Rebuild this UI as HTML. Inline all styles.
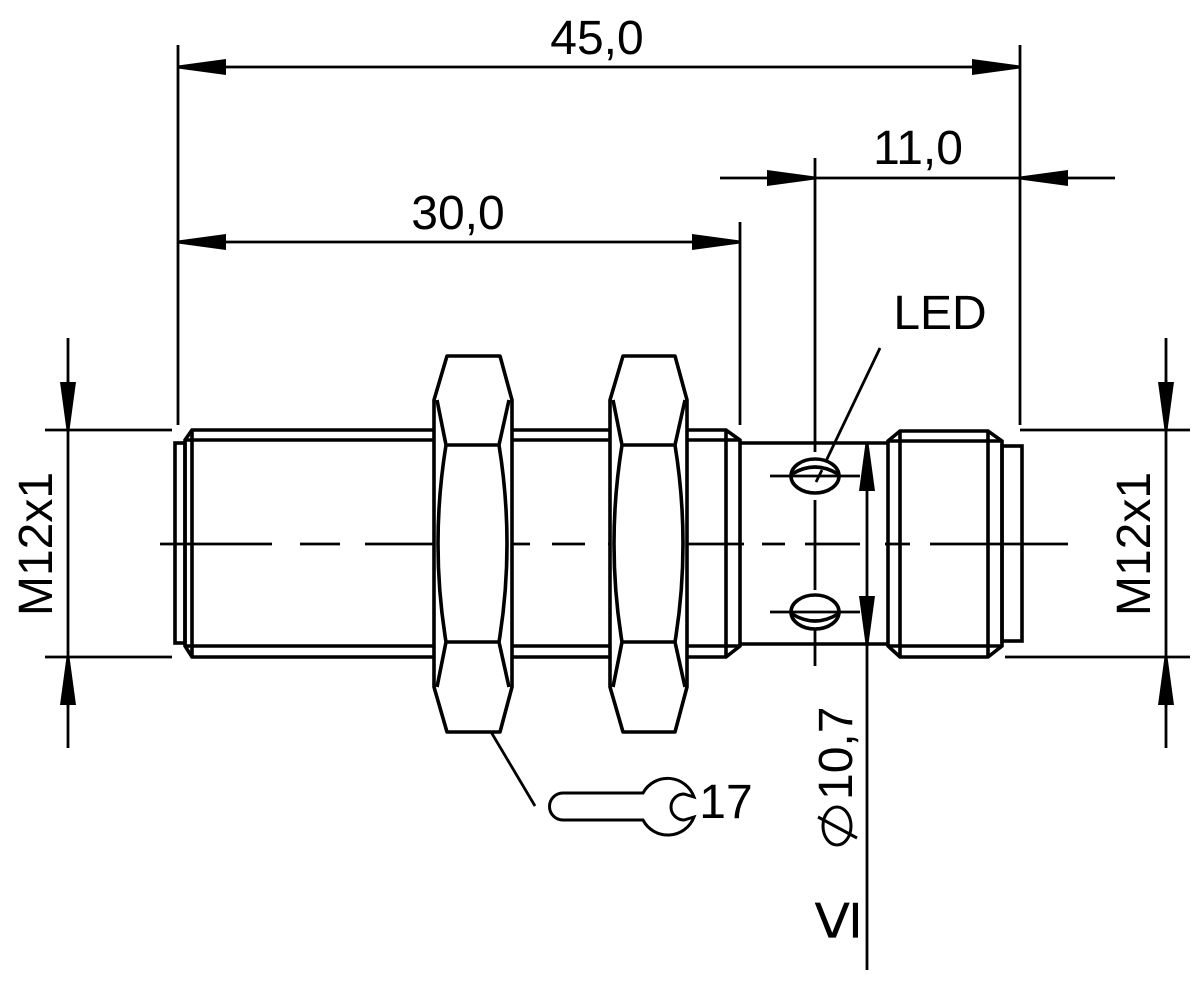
<!DOCTYPE html>
<html><head><style>html,body{margin:0;padding:0;background:#fff}svg{display:block}</style></head>
<body>
<svg width="1200" height="990" viewBox="0 0 1200 990" xmlns="http://www.w3.org/2000/svg" font-family="Liberation Sans, Arial, sans-serif">
<defs>
<marker id="a" viewBox="0 0 48 18" refX="48" refY="9" markerWidth="48" markerHeight="18" markerUnits="userSpaceOnUse" orient="auto"><path d="M0,1 L48,7.5 L48,10.5 L0,17 Z" fill="#000"/></marker>
</defs>
<g stroke="#000" fill="none" stroke-width="2.8">
<line x1="178" y1="45" x2="178" y2="425"/>
<line x1="1020" y1="45" x2="1020" y2="425"/>
<line x1="226" y1="67" x2="972" y2="67"/>
<line x1="226" y1="67" x2="178" y2="67" marker-end="url(#a)"/>
<line x1="972" y1="67" x2="1020" y2="67" marker-end="url(#a)"/>
<line x1="740" y1="222" x2="740" y2="425"/>
<line x1="226" y1="242" x2="692" y2="242"/>
<line x1="226" y1="242" x2="178" y2="242" marker-end="url(#a)"/>
<line x1="692" y1="242" x2="740" y2="242" marker-end="url(#a)"/>
<line x1="815" y1="158" x2="815" y2="452"/>
<line x1="720" y1="178" x2="815" y2="178" marker-end="url(#a)"/>
<line x1="815" y1="178" x2="1020" y2="178"/>
<line x1="1115" y1="178" x2="1020" y2="178" marker-end="url(#a)"/>
<line x1="45" y1="430" x2="172" y2="430"/>
<line x1="45" y1="657" x2="172" y2="657"/>
<line x1="68" y1="338" x2="68" y2="748"/>
<line x1="68" y1="380" x2="68" y2="430" marker-end="url(#a)"/>
<line x1="68" y1="707" x2="68" y2="657" marker-end="url(#a)"/>
<line x1="1020" y1="430" x2="1190" y2="430"/>
<line x1="1005" y1="657" x2="1190" y2="657"/>
<line x1="1166" y1="338" x2="1166" y2="748"/>
<line x1="1166" y1="380" x2="1166" y2="430" marker-end="url(#a)"/>
<line x1="1166" y1="707" x2="1166" y2="657" marker-end="url(#a)"/>
<line x1="867" y1="443" x2="867" y2="970"/>
<line x1="867" y1="490" x2="867" y2="443" marker-end="url(#a)"/>
<line x1="867" y1="597" x2="867" y2="644" marker-end="url(#a)"/>
<path d="M160,544 H272 M300,544 H340 M365,544 H530 M552,544 H585 M608,544 H744 M762,544 H785 M805,544 H860 M885,544 H910 M930,544 H1068"/>
<path d="M815,500 V590 M815,625 V666"/>
<line x1="880" y1="348" x2="816" y2="482"/>
<line x1="478" y1="710" x2="535" y2="806"/>
</g>
<g stroke="#000" fill="none" stroke-width="3.6">
<rect x="175" y="443" width="10" height="200"/>
<path d="M185,440 L192,430 H726 L740,440 V646 L726,657 H192 L185,646 Z"/>
<path d="M192,430 V657 M185,440 H740 M185,646 H740 M726,430 V657"/>
<path d="M740,443 H888 M740,644 H888"/>
<path d="M888,441 L900,431 H988 L1002,441 V646 L988,657 H900 L888,646 Z"/>
<path d="M900,431 V657 M988,431 V657 M888,441 H1002 M888,646 H1002"/>
<rect x="1002" y="446" width="20" height="195"/>
<ellipse cx="815" cy="476" rx="24" ry="17" fill="#fff"/>
<path d="M792,474 Q815,460 838,474"/>
<ellipse cx="815" cy="612" rx="24" ry="17" fill="#fff"/>
<path d="M792,614 Q815,628 838,614"/>
</g>
<g stroke="#000" stroke-width="2.8"><line x1="770" y1="476" x2="860" y2="476"/><line x1="770" y1="612" x2="860" y2="612"/><line x1="822" y1="470" x2="816" y2="482"/></g>
<g stroke="#000" fill="#fff" stroke-width="3.6" stroke-linejoin="round">
<path d="M447,356 H500 L512,400 V687 L500,732 H447 L434,687 V400 Z"/>
<path fill="none" d="M437,400 L446,445 H499 L509,400 M437,687 L446,642 H499 L509,687 M446,445 Q430,544 446,642 M499,445 Q515,544 499,642"/>
<path d="M623,356 H675 L687,400 V687 L675,732 H623 L610,687 V400 Z"/>
<path fill="none" d="M613,400 L622,445 H675 L685,400 M613,687 L622,642 H675 L685,687 M622,445 Q606,544 622,642 M675,445 Q691,544 675,642"/>
</g>
<path d="M643,793 A28,28 0 0 1 694,797 L684,794 A13,13 0 0 0 684,820 L694,817 A28,28 0 0 1 643,820 H563 A13.5,13.5 0 0 1 563,793 Z" fill="none" stroke="#000" stroke-width="3"/>
<g stroke="#000" stroke-width="3" fill="none">
<ellipse cx="837" cy="826" rx="14" ry="19"/>
<line x1="818" y1="817" x2="857" y2="838"/>
</g>
<g fill="#000" font-size="48">
<text x="597" y="54" text-anchor="middle">45,0</text>
<text x="458" y="229" text-anchor="middle">30,0</text>
<text x="918" y="164" text-anchor="middle">11,0</text>
<text x="940" y="329" text-anchor="middle">LED</text>
<text x="726" y="818" text-anchor="middle">17</text>
<text transform="translate(52,544) rotate(-90)" text-anchor="middle">M12x1</text>
<text transform="translate(1150,544) rotate(-90)" text-anchor="middle">M12x1</text>
<text transform="translate(852,800) rotate(-90)">10,7</text>
<text transform="translate(858,940) rotate(-90)" font-size="72">≤</text>
</g>
</svg>
</body></html>
